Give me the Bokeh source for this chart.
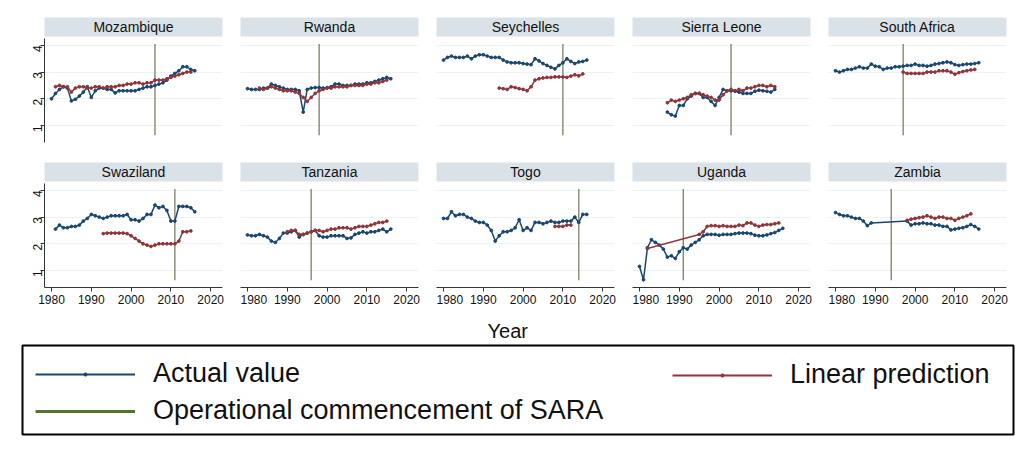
import math
from bokeh.plotting import figure
from bokeh.layouts import column, row
from bokeh.models import LinearAxis, FixedTicker, Grid, Legend, LegendItem
from bokeh.core.properties import value
from bokeh.embed import file_html
from bokeh.resources import INLINE

# ---- data ----
countries = ["Mozambique", "Rwanda", "Seychelles", "Sierra Leone", "South Africa",
             "Swaziland", "Tanzania", "Togo", "Uganda", "Zambia"]
sara_years = [2006, 1998, 2010, 2003, 1997, 2011, 1996, 2014, 1991, 1994]
x_ticks = [1980, 1990, 2000, 2010, 2020]
y_ticks = [1, 2, 3, 4]

moz_act = [2.00, 2.20, 2.35, 2.45, 2.40, 1.92, 1.98, 2.10, 2.25, 2.45, 2.05, 2.30, 2.40,
           2.40, 2.35, 2.35, 2.22, 2.30, 2.30, 2.30, 2.30, 2.30, 2.35, 2.40, 2.45, 2.45,
           2.50, 2.55, 2.60, 2.70, 2.85, 2.95, 3.05, 3.20, 3.20, 3.10, 3.05]
moz_pred = [2.45, 2.50, 2.45, 2.45, 2.25, 2.40, 2.45, 2.45, 2.40, 2.40, 2.45, 2.45, 2.40,
            2.45, 2.45, 2.45, 2.50, 2.50, 2.55, 2.55, 2.60, 2.60, 2.55, 2.60, 2.60, 2.70,
            2.70, 2.70, 2.75, 2.80, 2.85, 2.90, 2.95, 3.00, 3.00]
rwa_act = [2.38, 2.35, 2.35, 2.35, 2.40, 2.40, 2.55, 2.50, 2.45, 2.40, 2.35, 2.35, 2.35,
           2.30, 1.50, 2.35, 2.40, 2.42, 2.42, 2.40, 2.42, 2.45, 2.55, 2.55, 2.50, 2.50,
           2.50, 2.55, 2.55, 2.55, 2.60, 2.60, 2.65, 2.70, 2.75, 2.80, 2.75]
rwa_pred = [2.40, 2.35, 2.40, 2.45, 2.40, 2.35, 2.30, 2.30, 2.30, 2.25, 2.20, 2.05, 1.90,
            2.05, 2.20, 2.30, 2.35, 2.40, 2.40, 2.45, 2.45, 2.45, 2.45, 2.50, 2.50, 2.50,
            2.50, 2.55, 2.55, 2.60, 2.60, 2.65, 2.70]
syc_act = [3.45, 3.55, 3.60, 3.55, 3.55, 3.55, 3.60, 3.50, 3.60, 3.65, 3.65, 3.60, 3.55,
           3.55, 3.55, 3.45, 3.38, 3.35, 3.35, 3.35, 3.32, 3.30, 3.28, 3.50, 3.42, 3.32,
           3.25, 3.18, 3.12, 3.25, 3.35, 3.50, 3.40, 3.32, 3.38, 3.40, 3.45]
syc_pred = [2.40, 2.38, 2.35, 2.45, 2.42, 2.38, 2.35, 2.30, 2.45, 2.70, 2.75, 2.78, 2.80,
            2.80, 2.82, 2.82, 2.82, 2.80, 2.85, 2.90, 2.86, 2.93]
sle_act = [1.50, 1.40, 1.35, 1.75, 1.75, 2.00, 2.10, 2.20, 2.20, 2.05, 2.05, 1.90, 1.75,
           2.05, 2.35, 2.30, 2.30, 2.28, 2.25, 2.20, 2.20, 2.20, 2.28, 2.32, 2.30, 2.28,
           2.25, 2.35]
sle_pred = [1.85, 1.95, 1.90, 1.95, 2.00, 2.05, 2.15, 2.20, 2.20, 2.15, 2.10, 2.05, 1.95,
            1.95, 2.15, 2.30, 2.35, 2.30, 2.35, 2.30, 2.40, 2.40, 2.45, 2.50, 2.50, 2.45,
            2.50, 2.45]
zaf_act = [3.05, 3.00, 3.05, 3.10, 3.10, 3.15, 3.20, 3.15, 3.15, 3.30, 3.22, 3.20, 3.10,
           3.15, 3.15, 3.20, 3.20, 3.22, 3.25, 3.25, 3.30, 3.25, 3.25, 3.22, 3.25, 3.30,
           3.32, 3.35, 3.38, 3.35, 3.28, 3.25, 3.28, 3.30, 3.30, 3.32, 3.35]
zaf_pred = [3.00, 2.95, 2.95, 2.95, 2.95, 2.95, 3.00, 3.00, 3.00, 3.05, 3.05, 3.05, 3.00,
            2.92, 2.98, 3.02, 3.05, 3.08, 3.10]
swz_act = [2.55, 2.70, 2.60, 2.60, 2.65, 2.65, 2.70, 2.85, 2.95, 3.10, 3.05, 3.00, 2.95,
           3.00, 3.05, 3.05, 3.05, 3.05, 3.10, 2.90, 2.90, 2.85, 2.95, 3.10, 3.10, 3.45,
           3.35, 3.40, 3.25, 2.85, 2.85, 3.40, 3.40, 3.40, 3.35, 3.20]
swz_pred = [2.38, 2.40, 2.40, 2.40, 2.40, 2.40, 2.38, 2.30, 2.20, 2.10, 2.00, 1.95, 1.90,
            1.95, 2.00, 2.00, 2.00, 2.00, 2.00, 2.10, 2.45, 2.45, 2.48]
tza_act = [2.33, 2.30, 2.30, 2.35, 2.30, 2.25, 2.10, 2.05, 2.20, 2.40, 2.40, 2.45, 2.50,
           2.25, 2.35, 2.40, 2.45, 2.50, 2.30, 2.25, 2.25, 2.30, 2.30, 2.30, 2.30, 2.20,
           2.22, 2.35, 2.40, 2.45, 2.40, 2.45, 2.45, 2.50, 2.55, 2.45, 2.55]
tza_pred = [2.45, 2.50, 2.50, 2.35, 2.35, 2.40, 2.45, 2.50, 2.50, 2.45, 2.50, 2.55, 2.55,
            2.60, 2.60, 2.60, 2.55, 2.60, 2.65, 2.65, 2.65, 2.70, 2.75, 2.80, 2.80, 2.85]
tgo_act = [2.95, 2.95, 3.20, 3.05, 3.10, 3.10, 3.00, 2.95, 2.85, 2.80, 2.80, 2.70, 2.50,
           2.10, 2.30, 2.45, 2.45, 2.50, 2.60, 2.90, 2.50, 2.60, 2.50, 2.80, 2.80, 2.75,
           2.80, 2.85, 2.80, 2.80, 2.85, 2.85, 2.85, 3.00, 2.80, 3.10, 3.10]
tgo_pred = [2.65, 2.65, 2.65, 2.70, 2.70]
uga_act = [1.15, 0.65, 1.85, 2.15, 2.05, 1.95, 1.80, 1.50, 1.55, 1.45, 1.70, 1.85, 1.80,
           1.95, 2.05, 2.15, 2.30, 2.35, 2.35, 2.35, 2.32, 2.35, 2.35, 2.35, 2.38, 2.40,
           2.40, 2.40, 2.38, 2.32, 2.30, 2.30, 2.33, 2.38, 2.42, 2.50, 2.58]
uga_pred_years = [1982, 1995, 1996, 1997, 1998, 1999, 2000, 2001, 2002, 2003, 2004, 2005,
                  2006, 2007, 2008, 2009, 2010, 2011, 2012, 2013, 2014, 2015]
uga_pred = [1.82, 2.35, 2.45, 2.65, 2.68, 2.68, 2.65, 2.68, 2.65, 2.65, 2.65, 2.70, 2.68,
            2.78, 2.78, 2.70, 2.65, 2.70, 2.72, 2.72, 2.75, 2.78]
zmb_act_years = [1980, 1981, 1982, 1983, 1984, 1985, 1986, 1987, 1988, 1989, 1998, 1999,
                 2000, 2001, 2002, 2003, 2004, 2005, 2006, 2007, 2008, 2009, 2010, 2011,
                 2012, 2013, 2014, 2015, 2016]
zmb_act = [3.17, 3.10, 3.05, 3.05, 3.00, 2.95, 2.95, 2.85, 2.68, 2.78, 2.85, 2.70, 2.75,
           2.75, 2.78, 2.75, 2.75, 2.70, 2.70, 2.65, 2.65, 2.52, 2.55, 2.58, 2.60, 2.65,
           2.72, 2.65, 2.55]
zmb_pred = [2.88, 2.92, 2.95, 2.98, 3.00, 3.05, 3.00, 2.95, 3.00, 3.00, 2.95, 2.95, 2.88,
            2.95, 3.00, 3.05, 3.12]


def yrs(start, vals):
    return list(range(start, start + len(vals)))


actual = [(yrs(1980, moz_act), moz_act), (yrs(1980, rwa_act), rwa_act),
          (yrs(1980, syc_act), syc_act), (yrs(1987, sle_act), sle_act),
          (yrs(1980, zaf_act), zaf_act), (yrs(1981, swz_act), swz_act),
          (yrs(1980, tza_act), tza_act), (yrs(1980, tgo_act), tgo_act),
          (yrs(1980, uga_act), uga_act), (zmb_act_years, zmb_act)]
predicted = [(yrs(1981, moz_pred), moz_pred), (yrs(1983, rwa_pred), rwa_pred),
             (yrs(1994, syc_pred), syc_pred), (yrs(1987, sle_pred), sle_pred),
             (yrs(1997, zaf_pred), zaf_pred), (yrs(1993, swz_pred), swz_pred),
             (yrs(1990, tza_pred), tza_pred), (yrs(2008, tgo_pred), tgo_pred),
             (uga_pred_years, uga_pred), (yrs(1998, zmb_pred), zmb_pred)]

BLUE = "#1a476f"
RED = "#90353b"
GREEN = "#55752f"
VLINE = "#7c7f62"
STRIP = "#dae2e9"
INK = "#111111"
FONT = "Liberation Sans"


def borders(c):
    left = 44 if c == 0 else 0
    right = 10 if c == 4 else 18
    return left, right


def header(i):
    r, c = divmod(i, 5)
    left, right = borders(c)
    top = 17 if r == 0 else 9
    hp = figure(width=left + 178 + right, height=top + 21, x_range=(0, 1), y_range=(0, 1),
                x_axis_type=None, y_axis_type=None, toolbar_location=None,
                output_backend="svg", min_border_left=left, min_border_right=right,
                min_border_top=top, min_border_bottom=2)
    hp.background_fill_color = STRIP
    hp.outline_line_color = None
    hp.text(x=[0.5], y=[0.5], text=[countries[i]], text_align="center",
            text_baseline="middle", text_font=value(FONT), text_font_size="14px",
            text_color=INK)
    return hp


def panel(i):
    r, c = divmod(i, 5)
    left, right = borders(c)
    bottom = 24 if r == 1 else 11
    p = figure(width=left + 178 + right, height=104 + bottom,
               x_range=(1978.24, 2022.97), y_range=(0.36, 4.26),
               x_axis_type=None, y_axis_type=None, toolbar_location=None,
               output_backend="svg", min_border_left=left, min_border_right=right,
               min_border_top=0, min_border_bottom=bottom)
    p.outline_line_color = None
    p.add_layout(Grid(dimension=1, ticker=FixedTicker(ticks=y_ticks),
                      grid_line_color="#eef1f3"))
    axis_style = dict(major_label_text_font=FONT, major_label_text_font_size="12px",
                      major_label_text_color=INK, major_label_standoff=3,
                      major_tick_out=4, major_tick_in=0, minor_tick_out=0,
                      axis_line_color="#333333", major_tick_line_color="#333333")
    if c == 0:
        ya = LinearAxis(ticker=FixedTicker(ticks=y_ticks),
                        major_label_orientation=math.pi / 2, **axis_style)
        p.add_layout(ya, "left")
    if r == 1:
        xa = LinearAxis(ticker=FixedTicker(ticks=x_ticks), **axis_style)
        p.add_layout(xa, "below")

    sy = sara_years[i]
    p.segment(x0=[sy], y0=[0.63], x1=[sy], y1=[4.05], line_color=VLINE, line_width=1.3)

    ax, av = actual[i]
    p.line(ax, av, line_color=BLUE, line_width=1.5)
    p.scatter(ax, av, size=2.8, color=BLUE)
    px, pv = predicted[i]
    p.line(px, pv, line_color=RED, line_width=1.5)
    p.scatter(px, pv, size=2.8, color=RED)
    return p


rows = []
for r in range(2):
    rows.append(row([header(r * 5 + c) for c in range(5)]))
    rows.append(row([panel(r * 5 + c) for c in range(5)]))

# ---- bottom: axis title and legend ----
lf = figure(width=1016, height=132, x_range=(0, 1), y_range=(0, 1),
            x_axis_type=None, y_axis_type=None, toolbar_location=None,
            output_backend="svg", title="Year", min_border_left=22, min_border_right=3,
            min_border_top=34, min_border_bottom=9)
lf.title.align = "left"
lf.title.offset = 465
lf.title.text_font = FONT
lf.title.text_font_size = "20px"
lf.title.text_font_style = "normal"
lf.title.text_color = INK
lf.title.standoff = 8
lf.outline_line_color = "black"
lf.outline_line_width = 2

# legend proxies: the series themselves, kept outside the (0, 1) view
ax0, av0 = actual[0]
px0, pv0 = predicted[0]
l_act = lf.line(ax0, av0, line_color=BLUE, line_width=2)
s_act = lf.scatter(ax0, av0, size=3, color=BLUE)
l_pred = lf.line(px0, pv0, line_color=RED, line_width=2)
s_pred = lf.scatter(px0, pv0, size=3, color=RED)
l_sara = lf.line(ax0, av0, line_color=GREEN, line_width=3)

common = dict(glyph_width=100, glyph_height=8, label_standoff=18, spacing=6,
              padding=0, margin=0, border_line_color=None, background_fill_alpha=0,
              label_text_font=FONT, label_text_font_size="27px", label_text_color=INK,
              label_height=30)
leg1 = Legend(items=[LegendItem(label="Actual value", renderers=[l_act, s_act]),
                     LegendItem(label="Operational commencement of SARA",
                                renderers=[l_sara])],
              location=(13, 8), **common)
leg2 = Legend(items=[LegendItem(label="Linear prediction", renderers=[l_pred, s_pred])],
              location=(650, 44), **common)
lf.add_layout(leg1)
lf.add_layout(leg2)

layout = column(rows + [lf])

open("out.html", "w").write(file_html(layout, INLINE))
